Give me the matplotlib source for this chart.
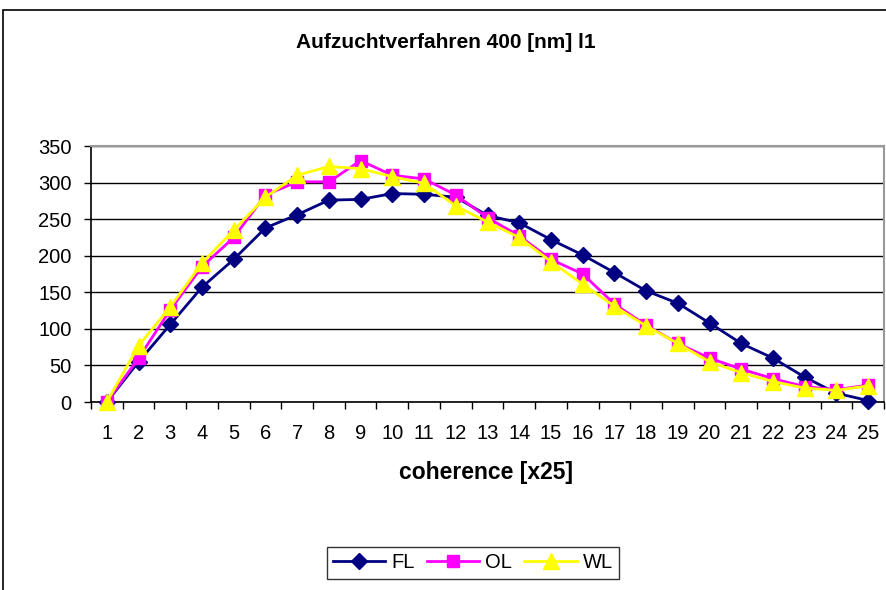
import matplotlib
matplotlib.use("Agg")
import matplotlib.pyplot as plt
from matplotlib.patches import Rectangle

plt.rcParams["font.family"] = ["Liberation Sans", "DejaVu Sans"]

categories = list(range(1, 26))
fl = [0, 55, 106, 157, 195, 238, 256, 276, 277, 285, 284, 280, 255, 245, 222,
      201, 177, 152, 135, 108, 80, 60, 34, 12, 2]
ol = [0, 60, 126, 185, 225, 283, 301, 301, 330, 310, 305, 283, 252, 227, 195,
      175, 134, 105, 80, 60, 45, 32, 21, 17, 23]
wl = [0, 77, 130, 190, 235, 280, 310, 322, 319, 308, 299, 268, 246, 225, 192,
      161, 131, 104, 80, 55, 40, 28, 19, 16, 22]
y_ticks = [0, 50, 100, 150, 200, 250, 300, 350]

fig = plt.figure(figsize=(8.86, 5.90), dpi=100)
ax = fig.add_axes([91 / 886, 1 - 402 / 590, (884 - 91) / 886, (402 - 146) / 590])

# outer chart frame
fig.patches.append(Rectangle((3 / 886, -0.1), 1.2, 1 - 10 / 590 + 0.1,
                             transform=fig.transFigure, fill=False,
                             edgecolor="black", linewidth=1.2))

ax.plot(categories, fl, color="#000080", marker="D", markersize=8, linewidth=2,
        label="FL", clip_on=False, zorder=3)
ax.plot(categories, ol, color="#FF00FF", marker="s", markersize=9, linewidth=2,
        label="OL", clip_on=False, zorder=4)
ax.plot(categories, wl, color="#FFFF00", marker="^", markersize=11, linewidth=2,
        label="WL", clip_on=False, zorder=5)

ax.set_xlim(0.5, 25.5)
ax.set_ylim(0, 350)
ax.set_yticks(y_ticks)
ax.yaxis.grid(True, color="black", linewidth=1)
ax.set_axisbelow(True)

# category axis: ticks between categories, labels centred
ax.set_xticks([c + 0.5 for c in [0] + categories])
ax.set_xticklabels([])
ax.set_xticks(categories, minor=True)
ax.set_xticklabels([str(c) for c in categories], minor=True, fontsize=14.5)
ax.tick_params(axis="x", which="minor", length=0, pad=16)
ax.tick_params(axis="x", which="major", length=5, direction="out", width=1)
ax.tick_params(axis="y", length=5, direction="out", labelsize=14.5, width=1, pad=9)

for side in ["top", "right"]:
    ax.spines[side].set_color("#999999")
    ax.spines[side].set_linewidth(1.5)
for side in ["left", "bottom"]:
    ax.spines[side].set_color("black")
    ax.spines[side].set_linewidth(1.2)

fig.text(446 / 886, 1 - 42 / 590, "Aufzuchtverfahren 400 [nm] l1",
         ha="center", va="center", fontsize=15, fontweight="bold")
fig.text(486 / 886, 1 - 473 / 590, "coherence [x25]",
         ha="center", va="center", fontsize=16.5, fontweight="bold")

leg = fig.legend(loc="center", bbox_to_anchor=(473 / 886, 1 - 563 / 590), ncol=3,
                 fontsize=14.5, frameon=True, fancybox=False, edgecolor="black",
                 handlelength=2.6, columnspacing=0.6, handletextpad=0.3,
                 borderpad=0.3)
leg.get_frame().set_linewidth(1)

fig.savefig("out.png", dpi=100)
